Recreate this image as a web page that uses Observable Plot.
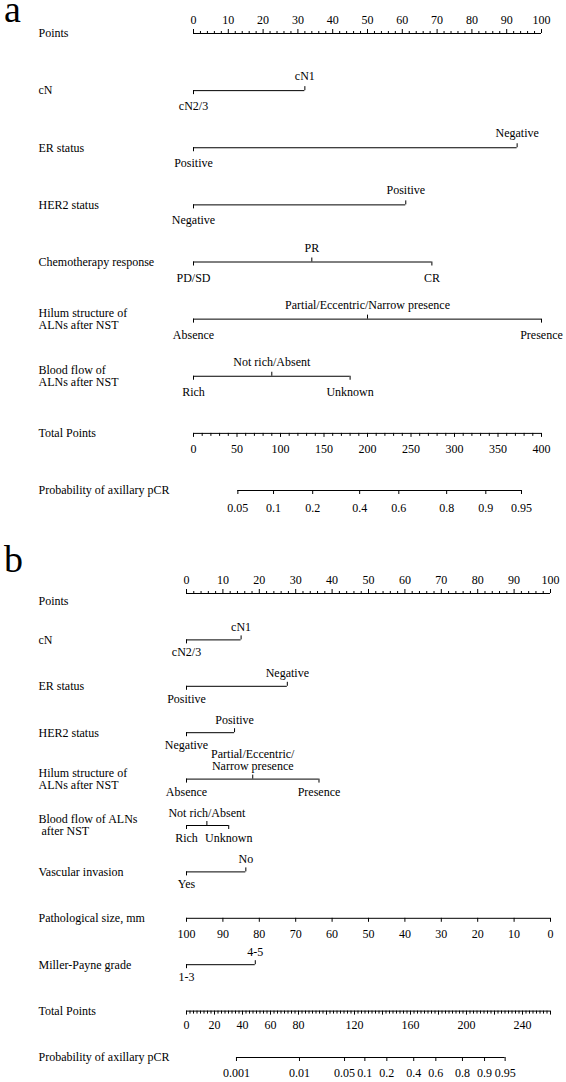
<!DOCTYPE html>
<html><head><meta charset="utf-8">
<script src="https://cdn.jsdelivr.net/npm/d3@7"></script>
<script src="https://cdn.jsdelivr.net/npm/@observablehq/plot@0.6"></script>
<style>
body{margin:0;background:#fff;}
#wrap{position:relative;width:566px;height:1082px;background:#fff;}
.letter{position:absolute;left:4px;font-size:38px;line-height:0;font-family:"Liberation Serif","Times New Roman",serif;color:#000;}
svg{display:block}
</style></head>
<body><div id="wrap"><div id="pa"></div><div id="pb"></div>
<div class="letter" style="top:9px">a</div><div class="letter" style="top:559px">b</div></div>
<script>
// ---------- Panel a data ----------
const rowsA = ["Points","cN","ER status","HER2 status","Chemotherapy response","Hilum structure of\nALNs after NST","Blood flow of\nALNs after NST","Total Points","Probability of axillary pCR"];
const pointsLabels = [0,10,20,30,40,50,60,70,80,90,100];
const cnA = ["cN2/3","cN1"], cnPtsA = [0,32];
const erA = ["Positive","Negative"], erPtsA = [0,93];
const her2A = ["Negative","Positive"], her2PtsA = [0,61];
const chemoA = ["PD/SD","PR","CR"], chemoPtsA = [0,34,68.5];
const hilumA = ["Absence","Partial/Eccentric/Narrow presence","Presence"], hilumPtsA = [0,50,100];
const bloodA = ["Rich","Not rich/Absent","Unknown"], bloodPtsA = [0,22.5,45];
const totalMaxA = 400;
const totalLabelsA = [0,50,100,150,200,250,300,350,400];
const probLabelsA = ["0.05","0.1","0.2","0.4","0.6","0.8","0.9","0.95"];
const probTotalsA = [51,92,137,191,236,291,336,377];

// ---------- Panel b data ----------
const rowsB = ["Points","cN","ER status","HER2 status","Hilum structure of\nALNs after NST","Blood flow of ALNs\n\u00a0after NST","Vascular invasion","Pathological size, mm","Miller-Payne grade","Total Points","Probability of axillary pCR"];
const cnB = ["cN2/3","cN1"], cnPtsB = [0,15];
const erB = ["Positive","Negative"], erPtsB = [0,27.7];
const her2B = ["Negative","Positive"], her2PtsB = [0,13.2];
const hilumB = ["Absence","Partial/Eccentric/\nNarrow presence","Presence"], hilumPtsB = [0,18.2,36.4];
const bloodB = ["Rich","Not rich/Absent","Unknown"], bloodPtsB = [0,5.6,11.6];
const vascB = ["Yes","No"], vascPtsB = [0,16.3];
const sizeLabelsB = [100,90,80,70,60,50,40,30,20,10,0];
const sizePtsB = [0,10,20,30,40,50,60,70,80,90,100];
const millerB = ["1-3","4-5"], millerPtsB = [0,18.9];
const totalMaxB = 260;
const totalLabelsB = [0,20,40,60,80,120,160,200,240];
const probLabelsB = ["0.001","0.01","0.05","0.1","0.2","0.4","0.6","0.8","0.9","0.95"];
const probTotalsB = [35.7,80.7,112.9,127.4,143.1,162.3,178.1,197.1,212.9,227.6];

const FONT = '"Liberation Serif","Times New Roman",serif';

function nomogram(cfg) {
  const {rows, height, marginTop, marginBottom, marginLeft, marginRight, variables,
         totalMax, totalMajorStep, totalMinorStep, totalLabels, probLabels, probTotals,
         size, dy, leftDy} = cfg;
  const n = rows.length;
  const pxPerRow = (height - marginTop - marginBottom) / (n - 1);
  const u = px => px / pxPerRow;
  const segs = [], ticks = [], labels = [];
  const idx = name => rows.indexOf(name);
  // Points axis
  const rp = idx("Points");
  segs.push({y: rp, x1: 0, x2: 100});
  for (const v of d3.range(0, 100.001, 2)) ticks.push({x: v, y: rp, dir: -1, len: v % 10 === 0 ? 4 : 2});
  for (const v of pointsLabels) labels.push({x: v, y: rp + u(dy.points), text: String(v), anchor: "bottom"});
  // categorical variables
  for (const vr of variables) {
    const r = idx(vr.row);
    segs.push({y: r, x1: d3.min(vr.pts), x2: d3.max(vr.pts)});
    vr.levels.forEach((lv, i) => {
      const above = i % 2 === 1;
      ticks.push({x: vr.pts[i], y: r, dir: above ? -1 : 1, len: 4});
      labels.push({x: vr.pts[i], y: r + u(above ? dy.above : dy.below), text: lv, anchor: above ? "bottom" : "top"});
    });
  }
  // continuous size row (panel b)
  if (size) {
    const r = idx(size.row);
    segs.push({y: r, x1: d3.min(size.pts), x2: d3.max(size.pts)});
    size.labels.forEach((lb, i) => {
      ticks.push({x: size.pts[i], y: r, dir: 1, len: 4});
      labels.push({x: size.pts[i], y: r + u(dy.size), text: String(lb), anchor: "top"});
    });
  }
  // Total points
  const k = 100 / totalMax;
  const rt = idx("Total Points");
  segs.push({y: rt, x1: 0, x2: totalMax * k});
  for (const v of d3.range(0, totalMax + 0.001, totalMinorStep)) {
    const major = Math.abs(v / totalMajorStep - Math.round(v / totalMajorStep)) < 1e-6;
    ticks.push({x: v * k, y: rt, dir: 1, len: major ? 4 : 3});
  }
  for (const v of totalLabels) labels.push({x: v * k, y: rt + u(dy.total), text: String(v), anchor: "top"});
  // Probability
  const rpr = idx("Probability of axillary pCR");
  segs.push({y: rpr, x1: d3.min(probTotals) * k, x2: d3.max(probTotals) * k});
  probLabels.forEach((lb, i) => {
    ticks.push({x: probTotals[i] * k, y: rpr, dir: 1, len: 4});
    labels.push({x: probTotals[i] * k, y: rpr + u(dy.prob), text: lb, anchor: "top"});
  });

  return Plot.plot({
    width: 566, height, marginTop, marginBottom, marginLeft, marginRight,
    x: {domain: [0, 100], axis: null},
    y: {domain: [0, n - 1], reverse: true, axis: null},
    style: {fontFamily: FONT, fontSize: "12px", background: "white", color: "black"},
    marks: [
      Plot.ruleY(segs, {y: "y", x1: "x1", x2: "x2", stroke: "black", strokeWidth: 1}),
      Plot.ruleX(ticks, {x: "x", y1: "y", y2: d => d.y + d.dir * u(d.len), stroke: "black", strokeWidth: 1}),
      Plot.text(labels.filter(d => d.anchor === "bottom"), {x: "x", y: "y", text: "text", lineAnchor: "bottom", fontSize: 12, fill: "black"}),
      Plot.text(labels.filter(d => d.anchor === "top"), {x: "x", y: "y", text: "text", lineAnchor: "top", fontSize: 12, fill: "black"}),
      Plot.text(rows, {y: (d, i) => i + u(leftDy(i)), text: d => d, frameAnchor: "left", textAnchor: "start", dx: 38 - marginLeft, lineAnchor: "middle", fontSize: 12, fill: "black"})
    ]
  });
}

const plotA = nomogram({
  rows: rowsA, height: 540, marginTop: 33, marginBottom: 50, marginLeft: 193, marginRight: 25,
  variables: [
    {row: "cN", levels: cnA, pts: cnPtsA},
    {row: "ER status", levels: erA, pts: erPtsA},
    {row: "HER2 status", levels: her2A, pts: her2PtsA},
    {row: "Chemotherapy response", levels: chemoA, pts: chemoPtsA},
    {row: rowsA[5], levels: hilumA, pts: hilumPtsA},
    {row: rowsA[6], levels: bloodA, pts: bloodPtsA}
  ],
  totalMax: totalMaxA, totalMajorStep: 50, totalMinorStep: 10, totalLabels: totalLabelsA,
  probLabels: probLabelsA, probTotals: probTotalsA,
  dy: {points: -10, above: -10.5, below: 11, total: 11, prob: 13},
  leftDy: i => 0
});
document.getElementById("pa").appendChild(plotA);

const plotB = nomogram({
  rows: rowsB, height: 542, marginTop: 53, marginBottom: 25, marginLeft: 186, marginRight: 16,
  variables: [
    {row: "cN", levels: cnB, pts: cnPtsB},
    {row: "ER status", levels: erB, pts: erPtsB},
    {row: "HER2 status", levels: her2B, pts: her2PtsB},
    {row: rowsB[4], levels: hilumB, pts: hilumPtsB},
    {row: rowsB[5], levels: bloodB, pts: bloodPtsB},
    {row: "Vascular invasion", levels: vascB, pts: vascPtsB},
    {row: "Miller-Payne grade", levels: millerB, pts: millerPtsB}
  ],
  size: {row: "Pathological size, mm", labels: sizeLabelsB, pts: sizePtsB},
  totalMax: totalMaxB, totalMajorStep: 20, totalMinorStep: 2.5, totalLabels: totalLabelsB,
  probLabels: probLabelsB, probTotals: probTotalsB,
  dy: {points: -10, above: -9, below: 8, total: 9, prob: 11, size: 11},
  leftDy: i => (i === 0 ? 8 : 0)
});
document.getElementById("pb").appendChild(plotB);
</script>
</body></html>
